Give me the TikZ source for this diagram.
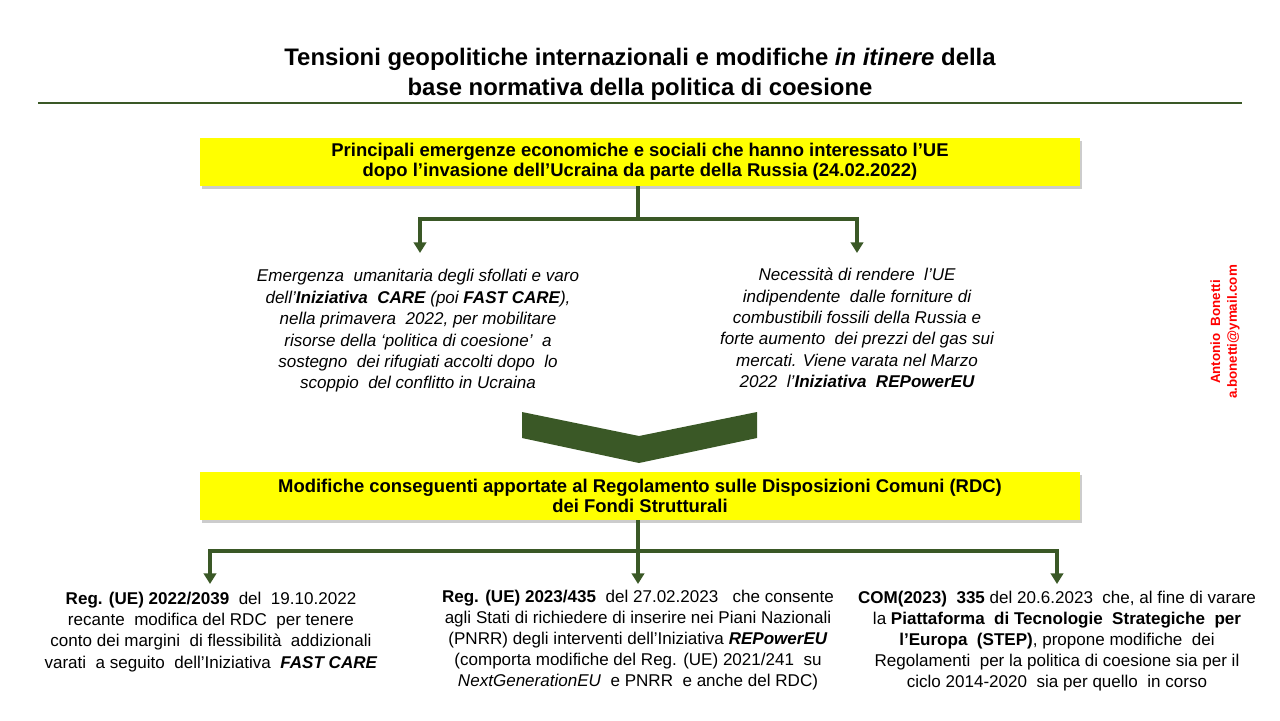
\documentclass[tikz,border=0pt]{standalone}
\usepackage{fontspec}
\setmainfont{Liberation Sans}
\usepackage{xcolor}
\usetikzlibrary{arrows.meta,shadows,positioning}

\definecolor{olivegreen}{RGB}{58,88,38}
\definecolor{boxyellow}{RGB}{255,255,0}

\tikzset{
    headbox/.style={fill=boxyellow, minimum width=17.6cm, minimum height=0.95cm, inner sep=0pt,
        align=center, font=\bfseries\fontsize{10.5}{11.6}\selectfont,
        drop shadow={shadow xshift=1.2pt, shadow yshift=-1.6pt, fill=black!40}},
    bodytext/.style={align=center, font=\fontsize{9.7}{12}\selectfont},
    branch/.style={olivegreen, line width=1.9pt},
    flow/.style={branch, -{Triangle[width=7pt,length=6pt]}}
}

\begin{document}
\begin{tikzpicture}[x=0.02cm, y=-0.02cm]
    \useasboundingbox (0,0) rectangle (1280,720);
    % title
    \node[align=center, font=\bfseries\fontsize{13.6}{17}\selectfont] (title) at (640,74)
        {Tensioni geopolitiche internazionali e modifiche \textit{in itinere} della\\
         base normativa della politica di coesione};
    \draw[olivegreen, line width=1.7pt] (38,103) -- (1242,103);
    % first box
    \node[headbox] (emerg) at (640,162)
        {Principali emergenze economiche e sociali che hanno interessato l'UE\\
         dopo l'invasione dell'Ucraina da parte della Russia (24.02.2022)};
    \coordinate (fork1) at (638,219);
    \coordinate (careTip) at (420,253);
    \coordinate (energyTip) at (857,253);
    \draw[branch] (emerg.south -| fork1) -- (fork1);
    \draw[flow] (fork1) -| (careTip);
    \draw[flow] (fork1) -| (energyTip);
    % the two emergencies
    \node[bodytext, font=\itshape\fontsize{9.7}{12.2}\selectfont] (care) at (418,331)
        {Emergenza \ umanitaria degli sfollati e varo\\
         dell'\textbf{Iniziativa \ CARE} (poi \textbf{FAST CARE}),\\
         nella primavera \ 2022, per mobilitare\\
         risorse della `politica di coesione' \ a\\
         sostegno \ dei rifugiati accolti dopo \ lo\\
         scoppio \ del conflitto in Ucraina};
    \node[bodytext, font=\itshape\fontsize{9.7}{12.2}\selectfont] (energy) at (857,328)
        {Necessità di rendere \ l'UE\\
         indipendente \ dalle forniture di\\
         combustibili fossili della Russia e\\
         forte aumento \ dei prezzi del gas sui\\
         mercati. Viene varata nel Marzo\\
         2022 \ l'\textbf{Iniziativa \ REPowerEU}};
    % chevron
    \fill[olivegreen] (522,412) -- (639,436) -- (757,412) -- (757,438) -- (639,463) -- (522,438) -- cycle;
    % second box
    \node[headbox] (rdc) at (640,496)
        {Modifiche conseguenti apportate al Regolamento sulle Disposizioni Comuni (RDC)\\
         dei Fondi Strutturali};
    \coordinate (fork2) at (638,551);
    \coordinate (regTipA) at (210,584);
    \coordinate (regTipB) at (638,584);
    \coordinate (regTipC) at (1057,584);
    \draw[flow] (rdc.south -| fork2) -- (regTipB);
    \draw[flow] (fork2) -| (regTipA);
    \draw[flow] (fork2) -| (regTipC);
    % the three measures
    \node[bodytext] (regA) at (211,632)
        {\textbf{Reg. (UE) 2022/2039} \ del \ 19.10.2022\\
         recante \ modifica del RDC \ per tenere\\
         conto dei margini \ di flessibilità \ addizionali\\
         varati \ a seguito \ dell'Iniziativa \ \textbf{\textit{FAST CARE}}};
    \node[bodytext] (regB) at (638,640)
        {\textbf{Reg. (UE) 2023/435} \ del 27.02.2023 \ \ che consente\\
         agli Stati di richiedere di inserire nei Piani Nazionali\\
         (PNRR) degli interventi dell'Iniziativa \textbf{\textit{REPowerEU}}\\
         (comporta modifiche del Reg. (UE) 2021/241 \ su\\
         \textit{NextGenerationEU} \ e PNRR \ e anche del RDC)};
    \node[bodytext] (regC) at (1057,641)
        {\textbf{COM(2023) \ 335} del 20.6.2023 \ che, al fine di varare\\
         la \textbf{Piattaforma \ di Tecnologie \ Strategiche \ per}\\
         \textbf{l'Europa \ (STEP)}, propone modifiche \ dei\\
         Regolamenti \ per la politica di coesione sia per il\\
         ciclo 2014-2020 \ sia per quello \ in corso};
    % author
    \node[rotate=90, align=center, red, font=\bfseries\fontsize{7.6}{9.6}\selectfont] (author) at (1225,332)
        {Antonio \ Bonetti\\a.bonetti@ymail.com};
\end{tikzpicture}
\end{document}
